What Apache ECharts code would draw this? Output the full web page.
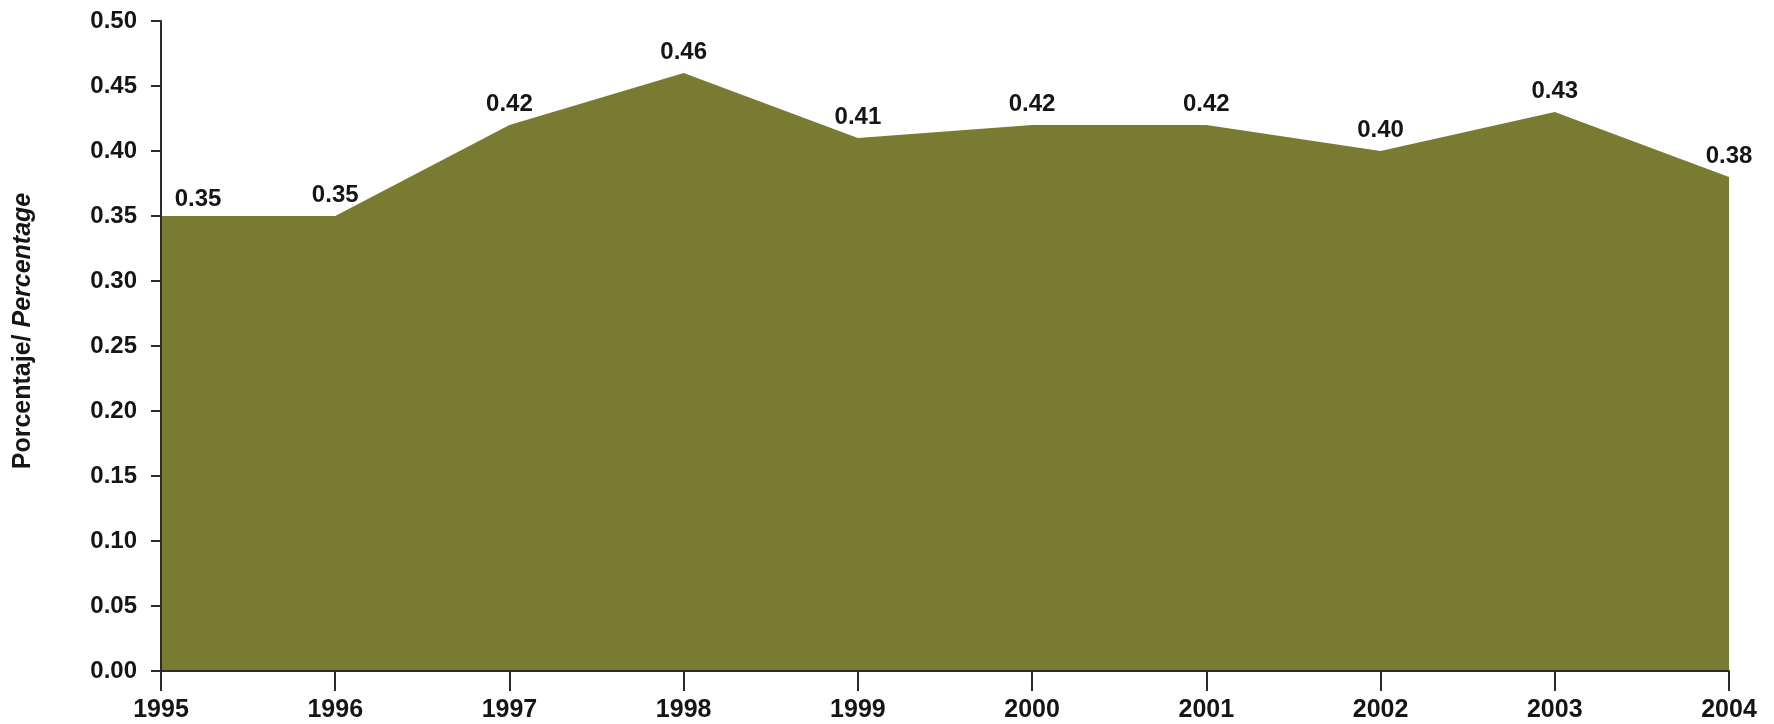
<!DOCTYPE html>
<html>
<head>
<meta charset="utf-8">
<script src="https://cdn.jsdelivr.net/npm/echarts@6/dist/echarts.min.js"></script>
<style>
  html, body { margin: 0; padding: 0; background: #ffffff; }
  #chart { width: 1774px; height: 724px; }
</style>
</head>
<body>
<div id="chart"></div>
<script>
// Years on the horizontal axis
const years = ['1995', '1996', '1997', '1998', '1999', '2000', '2001', '2002', '2003', '2004'];
// Share per year (percentage)
const values = [0.35, 0.35, 0.42, 0.46, 0.41, 0.42, 0.42, 0.40, 0.43, 0.38];
// Vertical scale
const yMin = 0;
const yMax = 0.5;
const yStep = 0.05;

const FONT = '"Liberation Sans", Arial, Helvetica, sans-serif';
const AXIS = '#2b2b2b';
const OLIVE = '#7a7b32';

const chart = echarts.init(document.getElementById('chart'), null, { renderer: 'canvas' });

// The first label sits to the right of its point so it clears the vertical axis
const seriesData = values.map((v, i) => i === 0
  ? { value: v, label: { offset: [37, 4] } }
  : { value: v });

chart.setOption({
  animation: false,
  backgroundColor: '#ffffff',
  grid: { left: 161, right: 45, top: 21, bottom: 53, containLabel: false },
  xAxis: {
    type: 'category',
    data: years,
    boundaryGap: false,
    z: 10,
    axisLine: { show: true, lineStyle: { color: AXIS, width: 2 } },
    axisTick: { show: true, alignWithLabel: true, length: 20, lineStyle: { color: AXIS, width: 2 } },
    axisLabel: {
      margin: 27,
      color: '#151515',
      fontFamily: FONT,
      fontWeight: 'bold',
      fontSize: 25,
      interval: 0
    },
    splitLine: { show: false }
  },
  yAxis: {
    type: 'value',
    min: yMin,
    max: yMax,
    interval: yStep,
    z: 10,
    axisLine: { show: true, lineStyle: { color: AXIS, width: 2 } },
    axisTick: { show: true, length: 10, lineStyle: { color: AXIS, width: 2 } },
    axisLabel: {
      margin: 24,
      color: '#151515',
      fontFamily: FONT,
      fontWeight: 'bold',
      fontSize: 24,
      formatter: v => v.toFixed(2)
    },
    splitLine: { show: false }
  },
  graphic: [{
    type: 'text',
    x: 23,
    y: 331,
    rotation: Math.PI / 2,
    style: {
      text: '{a|Porcentaje/ }{b|Percentage}',
      align: 'center',
      verticalAlign: 'middle',
      fill: '#151515',
      rich: {
        a: { fontFamily: FONT, fontSize: 25, fontWeight: 'bold', fill: '#151515' },
        b: { fontFamily: FONT, fontSize: 25, fontWeight: 'bold', fontStyle: 'italic', fill: '#151515' }
      }
    }
  }],
  series: [{
    type: 'line',
    data: seriesData,
    showSymbol: true,
    symbol: 'circle',
    symbolSize: 0,
    itemStyle: { color: OLIVE },
    lineStyle: { width: 0 },
    areaStyle: { color: OLIVE, opacity: 1 },
    label: {
      show: true,
      position: 'top',
      distance: 9,
      color: '#151515',
      fontFamily: FONT,
      fontWeight: 'bold',
      fontSize: 24,
      formatter: p => p.value.toFixed(2)
    }
  }]
});
</script>
</body>
</html>
